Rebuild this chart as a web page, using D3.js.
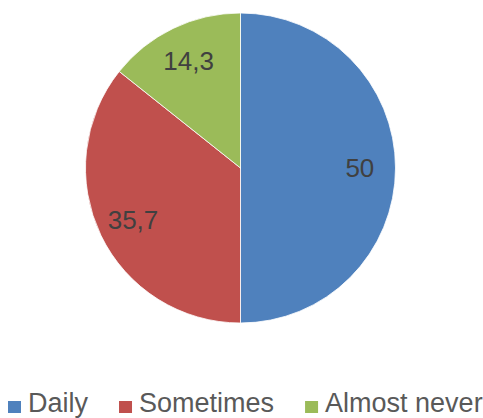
<!DOCTYPE html>
<html>
<head>
<meta charset="utf-8">
<script src="https://cdn.jsdelivr.net/npm/d3@7"></script>
<style>
  html, body { margin: 0; padding: 0; background: #fff; }
  svg { display: block; }
</style>
</head>
<body>
<svg id="chart" width="483" height="418"></svg>
<script>
const categories = ["Daily", "Sometimes", "Almost never"];
const values = [50, 35.7, 14.3];
const labels = ["50", "35,7", "14,3"];
const colors = ["#4F81BD", "#C0504D", "#9BBB59"];

const svg = d3.select("#chart");
const cx = 240.5, cy = 168, r = 155;

const pie = d3.pie().sort(null).value(d => d)(values);
const arc = d3.arc().innerRadius(0).outerRadius(r);
const labelArc = d3.arc().innerRadius(r * 0.77).outerRadius(r * 0.77);

const g = svg.append("g").attr("transform", `translate(${cx},${cy})`);
g.selectAll("path").data(pie).join("path")
  .attr("d", arc)
  .attr("fill", (d, i) => colors[i])
  .attr("stroke", "#ffffff")
  .attr("stroke-width", 0.8);

g.selectAll("text").data(pie).join("text")
  .attr("transform", d => `translate(${labelArc.centroid(d)})`)
  .attr("text-anchor", "middle")
  .attr("dy", "0.36em")
  .attr("font-family", "Liberation Sans, Arial, sans-serif")
  .attr("font-size", 26)
  .attr("fill", "#404040")
  .text((d, i) => labels[i]);

// legend
const leg = svg.append("g");
let x = 8;
const sq = 13, gapSqText = 7, gapItem = 31, baseline = 412;
categories.forEach((c, i) => {
  leg.append("rect").attr("x", x).attr("y", baseline - 11).attr("width", sq).attr("height", sq - 1)
    .attr("fill", colors[i]);
  const t = leg.append("text")
    .attr("x", x + sq + gapSqText)
    .attr("y", baseline)
    .attr("font-family", "Liberation Sans, Arial, sans-serif")
    .attr("font-size", 27)
    .attr("fill", "#595959")
    .text(c);
  x = x + sq + gapSqText + t.node().getComputedTextLength() + gapItem;
});
</script>
</body>
</html>
